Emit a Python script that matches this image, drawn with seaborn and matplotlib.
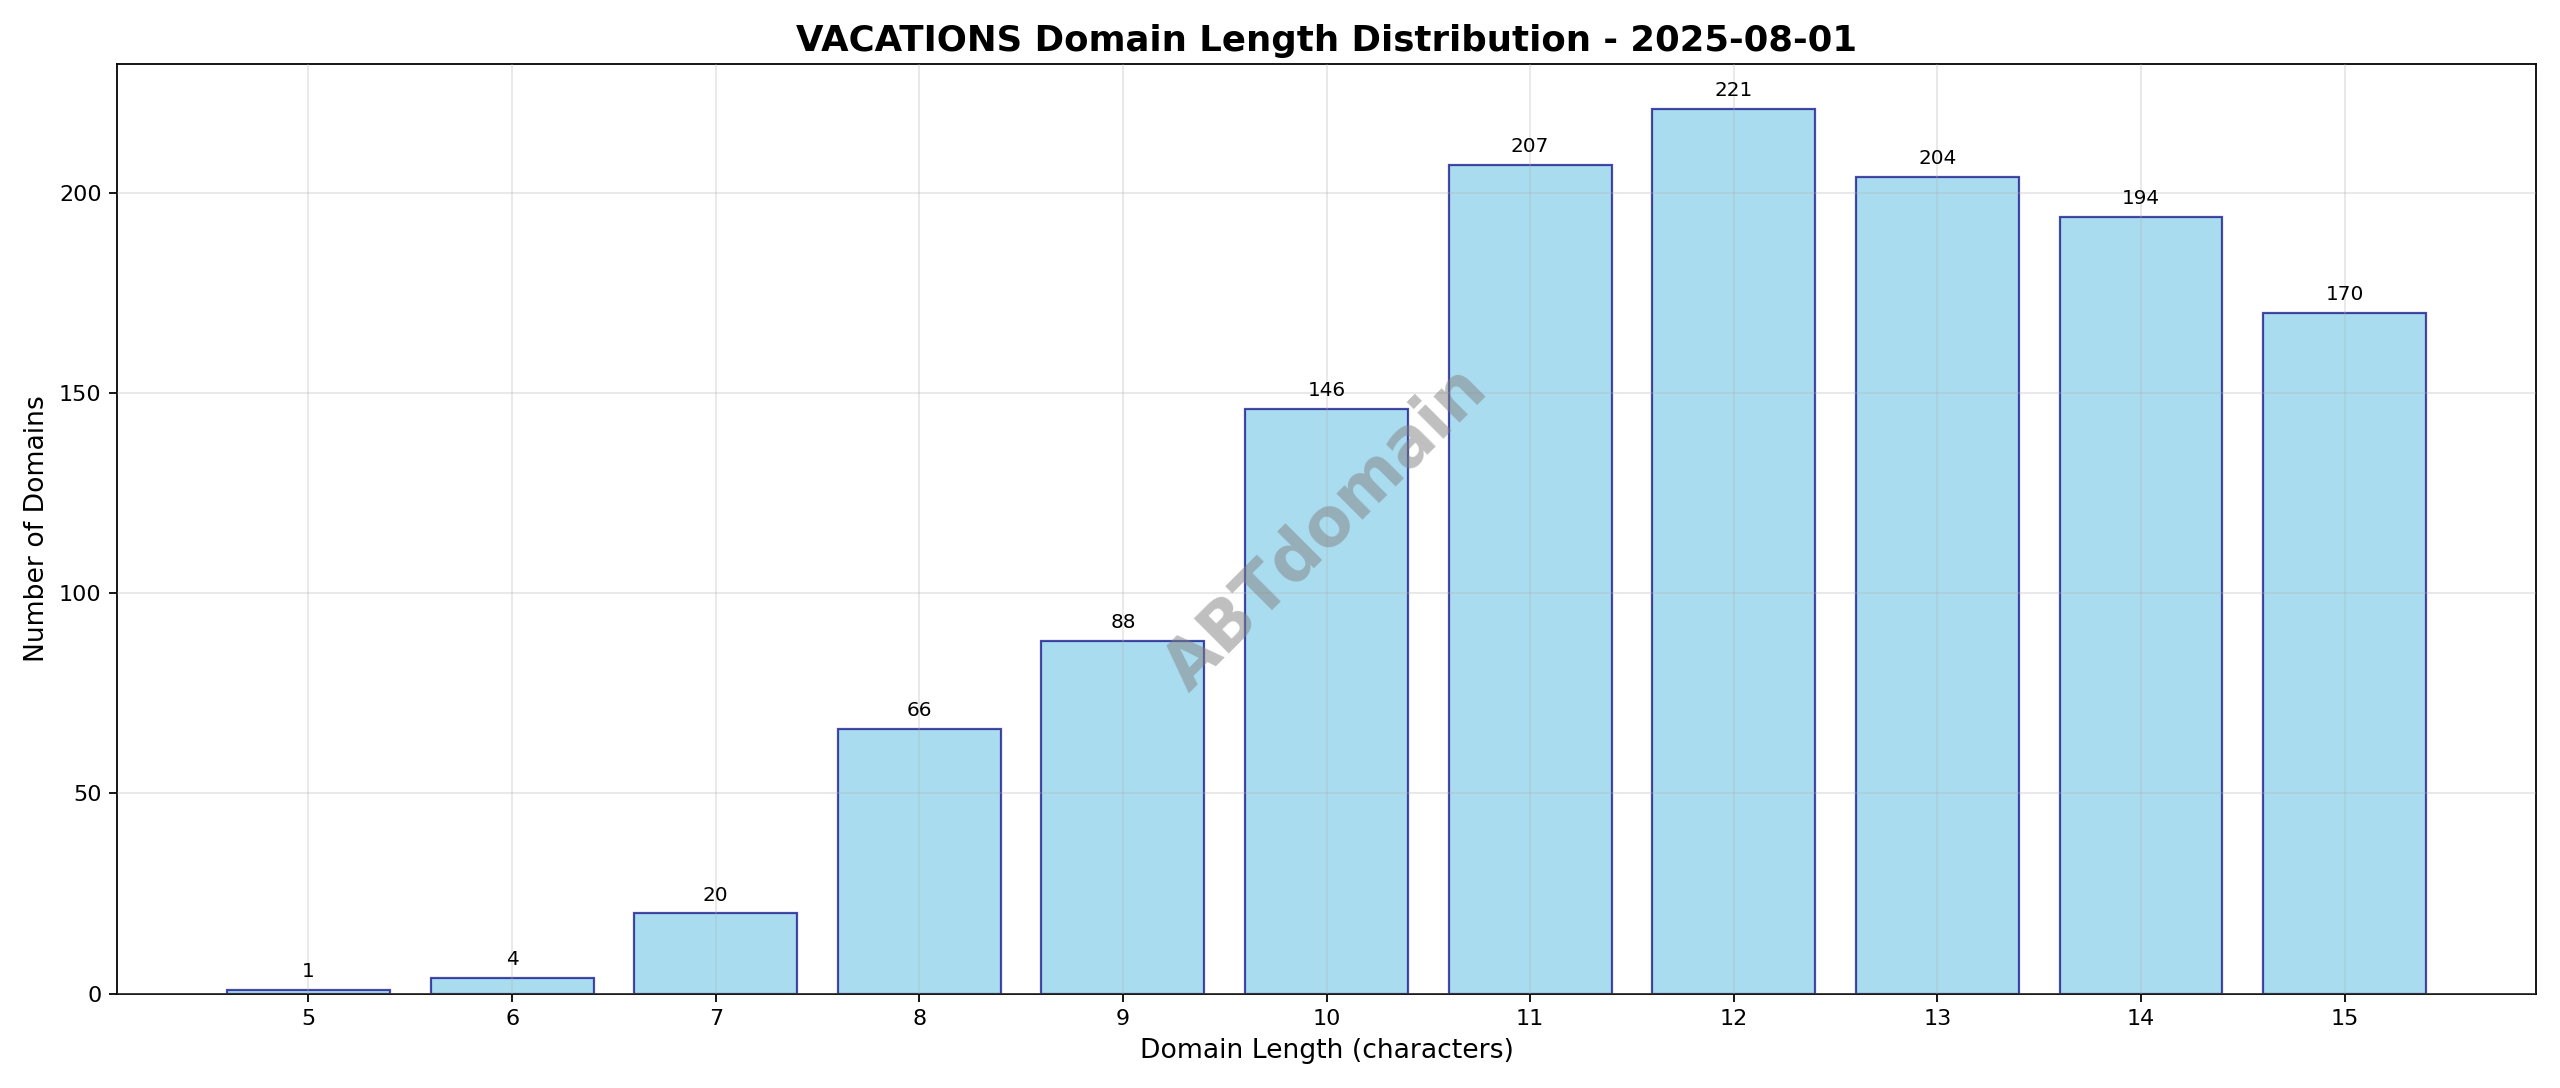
import numpy as np
import pandas as pd
import matplotlib.pyplot as plt
import seaborn as sns

lengths = [5, 6, 7, 8, 9, 10, 11, 12, 13, 14, 15]
counts = [1, 4, 20, 66, 88, 146, 207, 221, 204, 194, 170]

df = pd.DataFrame({"length": lengths, "count": counts})

fig, ax = plt.subplots(figsize=(16, 6.8), dpi=160)
sns.barplot(data=df, x="length", y="count", native_scale=True, width=0.8,
            color="skyblue", alpha=0.7, edgecolor="navy", linewidth=1.0,
            saturation=1, ax=ax)
for p in ax.patches:
    p.set_edgecolor((0, 0, 0.5, 0.7))

for x, c in zip(lengths, counts):
    ax.annotate(str(c), (x, c), xytext=(0, 4), textcoords="offset points",
                ha="center", va="bottom", fontsize=9)

ax.set_xticks(lengths)
ax.set_xlim(4.06, 15.94)
ax.grid(True, alpha=0.3)
ax.set_axisbelow(False)
ax.set_title("VACATIONS Domain Length Distribution - 2025-08-01",
             fontsize=16, fontweight="bold")
ax.set_xlabel("Domain Length (characters)", fontsize=12)
ax.set_ylabel("Number of Domains", fontsize=12)
ax.text(0.5, 0.5, "ABTdomain", transform=ax.transAxes, fontsize=30,
        fontweight="bold", color="gray", alpha=0.5, rotation=45,
        ha="center", va="center")

plt.tight_layout()
plt.savefig("out.png", dpi=160)
plt.close()
